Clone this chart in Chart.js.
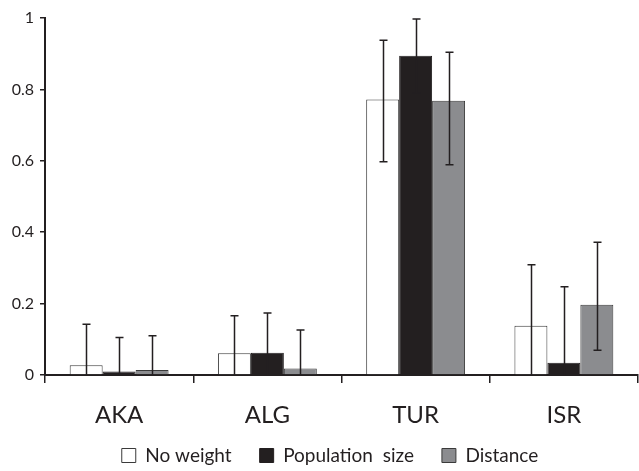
<!DOCTYPE html>
<html>
<head>
<meta charset="utf-8">
<script src="https://cdn.jsdelivr.net/npm/chart.js@4"></script>
<style>
  html, body { margin: 0; padding: 0; background: #fff; }
  #wrap { width: 639px; height: 471px; }
</style>
</head>
<body>
<div id="wrap"><canvas id="myChart"></canvas></div>
<script>
// данные
const categories = ['AKA', 'ALG', 'TUR', 'ISR'];
const seriesNames = ['No weight', 'Population  size', 'Distance'];
const yTickLabels = ['0', '0.2', '0.4', '0.6', '0.8', '1'];

const noWeight = [0.027, 0.061, 0.772, 0.138];
const popSize = [0.010, 0.062, 0.894, 0.034];
const distance = [0.014, 0.018, 0.768, 0.197];

// верх и низ усов
const noWeightHigh = [0.142, 0.166, 0.938, 0.309];
const noWeightLow = [-0.09, -0.04, 0.597, -0.03];
const popSizeHigh = [0.105, 0.174, 0.997, 0.247];
const popSizeLow = [-0.08, -0.05, 0.79, -0.18];
const distanceHigh = [0.110, 0.126, 0.904, 0.372];
const distanceLow = [-0.08, -0.09, 0.589, 0.069];

const ink = '#231f20';

// плагин для усов
const errorBars = {
  id: 'errorBars',
  afterDatasetsDraw(chart) {
    const ctx = chart.ctx;
    const y = chart.scales.y;
    const area = chart.chartArea;
    ctx.save();
    ctx.strokeStyle = ink;
    ctx.lineWidth = 1.5;
    chart.data.datasets.forEach((ds, di) => {
      const meta = chart.getDatasetMeta(di);
      meta.data.forEach((bar, i) => {
        let top = y.getPixelForValue(ds.errHigh[i]);
        let bot = y.getPixelForValue(ds.errLow[i]);
        const x = Math.round(bar.x) + 0.5;
        const botClip = Math.min(bot, area.bottom);
        ctx.beginPath();
        ctx.moveTo(x, top);
        ctx.lineTo(x, botClip);
        ctx.moveTo(x - 4, top);
        ctx.lineTo(x + 4, top);
        if (bot < area.bottom - 1) {
          ctx.moveTo(x - 4, bot);
          ctx.lineTo(x + 4, bot);
        }
        ctx.stroke();
      });
    });
    ctx.restore();
  }
};

// легенда: в раскладке низкая, потом растягиваем вверх и сдвигаем вправо
const legendHeight = {
  id: 'legendHeight',
  afterInit(chart) {
    const legend = chart.legend;
    const fit = legend.fit;
    legend.fit = function () {
      fit.call(this);
      this.height = 36;
    };
  },
  afterLayout(chart) {
    const legend = chart.legend;
    legend.top -= 17;
    legend.height += 17;
    legend.left += 11;
    legend.right += 11;
  }
};

const ctx = document.getElementById('myChart').getContext('2d');
const chart = new Chart(ctx, {
  type: 'bar',
  data: {
    labels: categories,
    datasets: [
      {
        label: seriesNames[0],
        data: noWeight,
        errHigh: noWeightHigh,
        errLow: noWeightLow,
        backgroundColor: '#ffffff',
        borderColor: '#3a3a3a',
        borderWidth: 1,
      },
      {
        label: seriesNames[1],
        data: popSize,
        errHigh: popSizeHigh,
        errLow: popSizeLow,
        backgroundColor: ink,
        borderColor: ink,
        borderWidth: 1,
      },
      {
        label: seriesNames[2],
        data: distance,
        errHigh: distanceHigh,
        errLow: distanceLow,
        backgroundColor: '#8b8c8f',
        borderColor: '#3a3a3a',
        borderWidth: 1,
      },
    ],
  },
  options: {
    responsive: true,
    maintainAspectRatio: false,
    animation: false,
    datasets: {
      bar: { categoryPercentage: 0.667, barPercentage: 1.0 }
    },
    layout: { padding: { top: 18, right: 1, left: 0, bottom: 0 } },
    scales: {
      x: {
        offset: true,
        grid: {
          offset: true,
          drawOnChartArea: false,
          tickLength: 8,
          color: ink,
          lineWidth: 1.5,
        },
        border: { display: true, color: ink, width: 2 },
        ticks: {
          color: ink,
          padding: 18,
          font: { family: 'Lato', size: 24 },
        },
        afterFit(scale) { scale.height = 60; },
      },
      y: {
        min: 0,
        max: 1,
        ticks: {
          stepSize: 0.2,
          color: ink,
          padding: 6,
          font: { family: 'Lato', size: 16 },
          callback: (value, index) => yTickLabels[index],
        },
        grid: {
          drawOnChartArea: false,
          tickLength: 5,
          color: ink,
          lineWidth: 1.5,
        },
        border: { display: true, color: ink, width: 2 },
        afterFit(scale) { scale.width = 45; },
      },
    },
    plugins: {
      legend: {
        position: 'bottom',
        labels: {
          boxWidth: 14,
          boxHeight: 14,
          padding: 28,
          color: ink,
          font: { family: 'Lato', size: 19 },
        },
      },
      tooltip: { enabled: false },
    },
  },
  plugins: [errorBars, legendHeight],
});
</script>
</body>
</html>
